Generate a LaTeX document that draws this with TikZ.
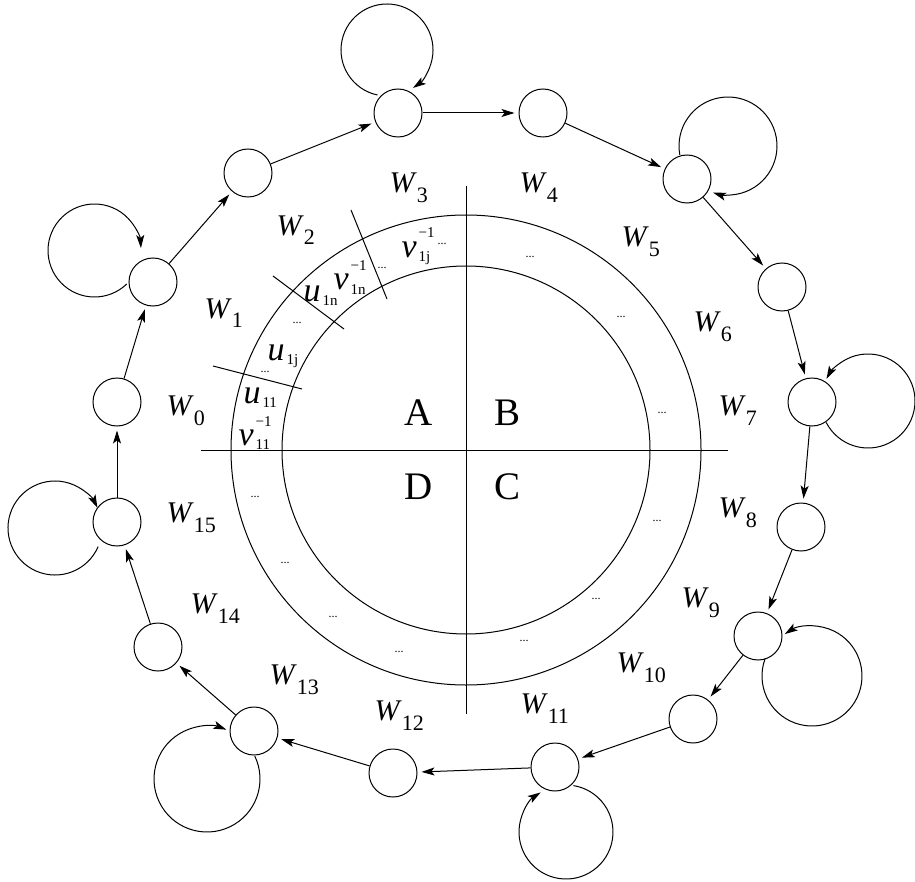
\documentclass[tikz,border=0pt]{standalone}
\usepackage{fontspec}
\setmainfont{Liberation Serif}
\usepackage{tikz}
\usetikzlibrary{arrows.meta, calc}

\newcommand{\Wlab}[1]{\fontsize{15}{15}\selectfont\textit{W}\raisebox{-5pt}{\fontsize{11}{11}\selectfont #1}}
\newcommand{\ringlab}[3]{\fontsize{17}{17}\selectfont\textit{#1}\kern1pt\fontsize{7.5}{7.5}\selectfont\rlap{\raisebox{9.5pt}{#3}}\raisebox{-2.3pt}{#2}}

\tikzset{
  state/.style={draw, circle, minimum size=24pt, inner sep=0pt},
  arr/.style={-{Stealth[length=6.5pt,width=4pt,inset=1.5pt]}, shorten >=2pt},
  selfloop/.style={-{Stealth[length=6.5pt,width=4pt,inset=1.5pt]}},
  wlabel/.style={anchor=base west, inner sep=0pt},
  ringtext/.style={anchor=base west, inner sep=0pt},
  dots/.style={inner sep=0pt, font=\fontsize{6}{6}\selectfont},
  quarter/.style={inner sep=0pt, font=\fontsize{19.5}{19.5}\selectfont}
}

\begin{document}
\begin{tikzpicture}[x=0.5pt, y=-0.5pt, line width=0.5pt]
  \useasboundingbox (0,0) rectangle (915,882);

  % the two rings and the cross
  \coordinate (o) at (466,450);
  \draw (o) circle[radius=235];
  \draw (o) circle[radius=184];
  \draw (201,450) -- (728,450);
  \draw (466,186) -- (466,714);
  \node[quarter] (qa) at (419,413) {A};
  \node[quarter] (qb) at (507,413) {B};
  \node[quarter] (qc) at (507,487) {C};
  \node[quarter] (qd) at (419,487) {D};

  % cuts across the ring
  \draw (213,366) -- (302,389);
  \draw (273,276) -- (344,329);
  \draw (351,210) -- (387,299);

  % words written along the ring
  \node[ringtext] (r1) at (238,445) {\ringlab{v}{11}{−1}};
  \node[ringtext] (r2) at (243,403) {\ringlab{u}{11}{}};
  \node[ringtext] (r3) at (267,360) {\ringlab{u}{1j}{}};
  \node[ringtext] (r4) at (303,301) {\ringlab{u}{1n}{}};
  \node[ringtext] (r5) at (333,290) {\ringlab{v}{1n}{−1}};
  \node[ringtext] (r6) at (401,257) {\ringlab{v}{1j}{−1}};
  \node[dots] (d1) at (265,372) {...};
  \node[dots] (d2) at (297,323) {...};
  \node[dots] (d3) at (382,268) {...};
  \node[dots] (d4) at (442,244) {...};
  \node[dots] (d5) at (530,257) {...};
  \node[dots] (d6) at (621,317) {...};
  \node[dots] (d7) at (662,413) {...};
  \node[dots] (d8) at (657,521) {...};
  \node[dots] (d9) at (596,599) {...};
  \node[dots] (d10) at (524,641) {...};
  \node[dots] (d11) at (399,652) {...};
  \node[dots] (d12) at (333,617) {...};
  \node[dots] (d13) at (285,563) {...};
  \node[dots] (d14) at (255,497) {...};

  % sector names
  \node[wlabel] (l0) at (166,415) {\Wlab{0}};
  \node[wlabel] (l1) at (204,318) {\Wlab{1}};
  \node[wlabel] (l2) at (276,235) {\Wlab{2}};
  \node[wlabel] (l3) at (389,193) {\Wlab{3}};
  \node[wlabel] (l4) at (519,193) {\Wlab{4}};
  \node[wlabel] (l5) at (621,247) {\Wlab{5}};
  \node[wlabel] (l6) at (693,331) {\Wlab{6}};
  \node[wlabel] (l7) at (718,415) {\Wlab{7}};
  \node[wlabel] (l8) at (718,517) {\Wlab{8}};
  \node[wlabel] (l9) at (681,607) {\Wlab{9}};
  \node[wlabel] (l10) at (616,672) {\Wlab{10}};
  \node[wlabel] (l11) at (520,713) {\Wlab{11}};
  \node[wlabel] (l12) at (374,720) {\Wlab{12}};
  \node[wlabel] (l13) at (269,684) {\Wlab{13}};
  \node[wlabel] (l14) at (190,613) {\Wlab{14}};
  \node[wlabel] (l15) at (166,522) {\Wlab{15}};

  % outer cycle of states
  \node[state] (w0) at (117,402) {};
  \node[state] (w1) at (153,282) {};
  \node[state] (w2) at (248,173) {};
  \node[state] (w3) at (398,113) {};
  \node[state] (w4) at (543,113) {};
  \node[state] (w5) at (687,179) {};
  \node[state] (w6) at (782,287) {};
  \node[state] (w7) at (812,402) {};
  \node[state] (w8) at (801,527) {};
  \node[state] (w9) at (758,636) {};
  \node[state] (w10) at (693,719) {};
  \node[state] (w11) at (555,767) {};
  \node[state] (w12) at (393,773) {};
  \node[state] (w13) at (254,731) {};
  \node[state] (w14) at (158,647) {};
  \node[state] (w15) at (117,522) {};

  \draw[arr] (w0) -- (w1);
  \draw[arr] (w1) -- (w2);
  \draw[arr] (w2) -- (w3);
  \draw[arr] (w3) -- (w4);
  \draw[arr] (w4) -- (w5);
  \draw[arr] (w5) -- (w6);
  \draw[arr] (w6) -- (w7);
  \draw[arr] (w7) -- (w8);
  \draw[arr] (w8) -- (w9);
  \draw[arr] (w9) -- (w10);
  \draw[arr] (w10) -- (w11);
  \draw[arr] (w11) -- (w12);
  \draw[arr] (w12) -- (w13);
  \draw[arr] (w13) -- (w14);
  \draw[arr] (w14) -- (w15);
  \draw[arr] (w15) -- (w0);

  % self loops
  \coordinate (lp1) at (94.5,250.5);
  \coordinate (lp3) at (387,50);
  \coordinate (lp5) at (728,146);
  \coordinate (lp7) at (868,401);
  \coordinate (lp9) at (812,676);
  \coordinate (lp11) at (566,832);
  \coordinate (lp13) at (207,779);
  \coordinate (lp15) at (55,528);
  \draw[selfloop] ($(lp1)+(46:46.5)$) arc[start angle=46, end angle=357, radius=46.5];
  \draw[selfloop] ($(lp3)+(102:46)$) arc[start angle=102, end angle=415.6, radius=46];
  \draw[selfloop] ($(lp5)+(-190.4:49)$) arc[start angle=-190.4, end angle=107.7, radius=49];
  \draw[selfloop] ($(lp7)+(152.8:47)$) arc[start angle=152.8, end angle=-152, radius=47];
  \draw[selfloop] ($(lp9)+(200:50)$) arc[start angle=200, end angle=-123, radius=50];
  \draw[selfloop] ($(lp11)+(-81:47)$) arc[start angle=-81, end angle=237.3, radius=47];
  \draw[selfloop] ($(lp13)+(-25.6:53)$) arc[start angle=-25.6, end angle=291.4, radius=53];
  \draw[selfloop] ($(lp15)+(23.4:47)$) arc[start angle=23.4, end angle=334.5, radius=47];
\end{tikzpicture}
\end{document}
